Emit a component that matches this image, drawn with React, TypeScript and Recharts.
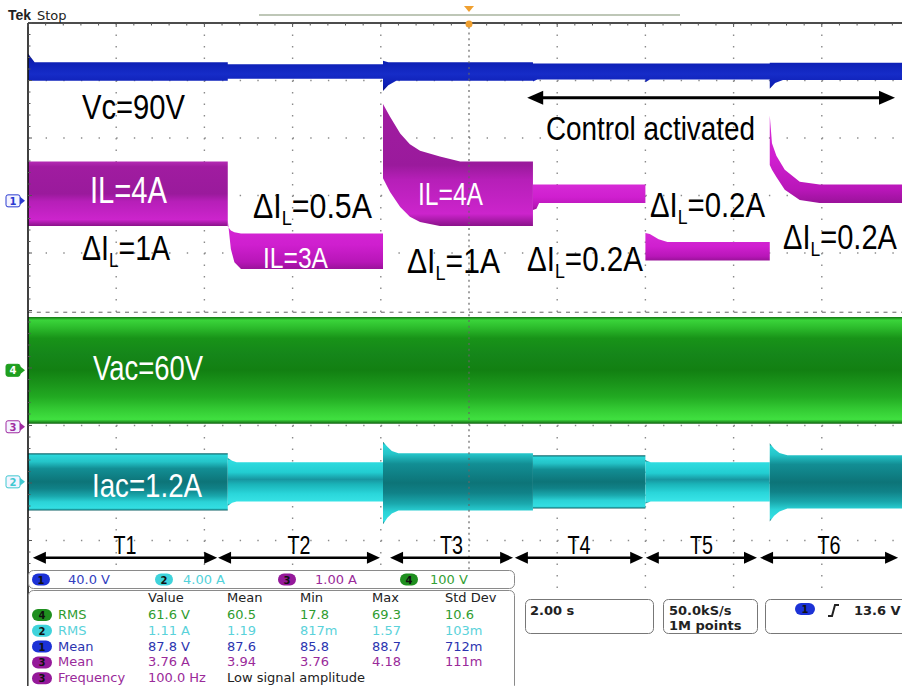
import React from "react";
import { ComposedChart, Area, XAxis, YAxis, CartesianGrid, ReferenceLine } from "recharts";

// graticule: 10 x 10 divisions
const PLOT_L = 28;
const PLOT_T = 23;
const PLOT_W = 882;
const PLOT_H = 575;
const T_END = 20; // 2.00 s/div

// channel settings: units per division, position (div from centre)
const CH_SCALE = { vc: 40, iac: 4, il: 1, vac: 100 };
const CH_POS = { vc: 1.907, iac: -2.98, il: -1.97, vac: -1.04 };

// test intervals (s)
const SEG_EDGES = [0, 4.53, 8.05, 11.45, 14.0, 16.82, 20];
const SEG_NAMES = ["T1", "T2", "T3", "T4", "T5", "T6"];
const SEG_ARROWS: [number, number][] = [
  [0.11, 4.29], [4.31, 7.98], [8.21, 11.0], [11.04, 13.95], [14.01, 16.53], [16.6, 19.73],
];
const CONTROL_SPAN: [number, number] = [11.32, 19.66];

// dc link voltage
const VC_LEVEL = 90;
const VC_NOISE = [6.5, 5, 6.5, 5.5, 5.5, 6];

// inductor current
const IL_LEVEL = [4, 3, 4, 4, 3, 4];
const IL_RIPPLE = [1, 0.5, 1, 0.2, 0.2, 0.2];
const IL_TRACE = 0.12;

// grid side
const VAC_RMS = 60;
const VAC_NOISE = 8;
const IAC_RMS = [1.2, 0.75, 1.2, 1.1, 0.75, 1.1];
const IAC_NOISE = 0.3;

// step responses after each change: [dt s, low edge offset, high edge offset]
type Kick = [number, number, number];
const VC_KICKS: Kick[][] = [
  [[0, 0, 6], [0.15, 0, 0]],
  [],
  [[0, -7, 1], [0.12, -3, 0], [0.3, 0, 0]],
  [[0, -1.5, 0], [0.1, 0, 0]],
  [[0, -2, 0], [0.1, 0, 0]],
  [[0, -6, 0], [0.12, -2, 0], [0.3, 0, 0]],
];
const IL_KICKS: Kick[][] = [
  [],
  [[0, 0.85, 0.12], [0.07, 0.35, 0.05], [0.15, 0.12, 0.02], [0.3, 0, 0]],
  [[0, 0.83, 1.0], [0.16, 0.59, 0.78], [0.39, 0.33, 0.49], [0.61, 0.16, 0.3], [0.84, 0.07, 0.19], [1.29, 0, 0.09], [1.75, 0, 0]],
  [[0, -0.12, 0], [0.08, -0.1, 0], [0.14, 0, 0]],
  [[0, 0, 0.16], [0.1, 0, 0.14], [0.3, 0, 0.05], [0.5, 0, 0]],
  [[0, 0.66, 1.2], [0.05, 0.58, 0.72], [0.15, 0.45, 0.5], [0.34, 0.23, 0.26], [0.68, 0.05, 0.05], [1.13, 0, 0]],
];
const IAC_KICKS: Kick[][] = [
  [],
  [[0, -0.3, 0.3], [0.1, -0.1, 0.1], [0.2, 0, 0]],
  [[0, -0.95, 0.8], [0.1, -0.5, 0.45], [0.2, -0.2, 0.15], [0.35, 0, 0]],
  [],
  [[0, -0.15, 0.15], [0.12, 0, 0]],
  [[0, -0.9, 0.83], [0.1, -0.5, 0.45], [0.22, -0.2, 0.15], [0.4, 0, 0]],
];

// measurement readout
const SCALE_BAR = [
  { ch: "1", text: "40.0 V", pill: "#1c32d6", color: "#3340c0", px: 32, tx: 68 },
  { ch: "2", text: "4.00 A", pill: "#3fd3db", color: "#52d2da", px: 155, tx: 183 },
  { ch: "3", text: "1.00 A", pill: "#95199a", color: "#9a2a9a", px: 278, tx: 315 },
  { ch: "4", text: "100 V", pill: "#1f8f1f", color: "#35a035", px: 400, tx: 430 },
];
const MEAS_HEAD = ["Value", "Mean", "Min", "Max", "Std Dev"];
const MEAS_COLS = [148, 227, 300, 372, 445];
const MEAS_ROWS = [
  { ch: "4", label: "RMS", vals: ["61.6 V", "60.5", "17.8", "69.3", "10.6"], pill: "#1f8f1f", color: "#2f9c2f" },
  { ch: "2", label: "RMS", vals: ["1.11 A", "1.19", "817m", "1.57", "103m"], pill: "#3fd3db", color: "#5ad2da" },
  { ch: "1", label: "Mean", vals: ["87.8 V", "87.6", "85.8", "88.7", "712m"], pill: "#1c32d6", color: "#2b34b0" },
  { ch: "3", label: "Mean", vals: ["3.76 A", "3.94", "3.76", "4.18", "111m"], pill: "#95199a", color: "#9a2a9a" },
  { ch: "3", label: "Frequency", vals: ["100.0 Hz"], pill: "#95199a", color: "#9a2a9a" },
];
const MEAS_NOTE = "Low signal amplitude";

type Ch = keyof typeof CH_SCALE;
const toDiv = (v: number, ch: Ch) => v / CH_SCALE[ch] + CH_POS[ch];

function band(ch: Ch, t0: number, t1: number, lo: number, hi: number, kicks: Kick[] = []) {
  const pts = kicks.map(([dt, dlo, dhi]) => ({ t: t0 + dt, v: [toDiv(lo + dlo, ch), toDiv(hi + dhi, ch)] }));
  if (!kicks.length || kicks[0][0] > 0) pts.unshift({ t: t0, v: [toDiv(lo, ch), toDiv(hi, ch)] });
  pts.push({ t: t1, v: [toDiv(lo, ch), toDiv(hi, ch)] });
  return pts;
}

const vcData = VC_NOISE.flatMap((n, i) =>
  band("vc", SEG_EDGES[i], SEG_EDGES[i + 1], VC_LEVEL - n, VC_LEVEL + n, VC_KICKS[i])
);
const ilBands = IL_LEVEL.map((lvl, i) => {
  const half = (IL_RIPPLE[i] + IL_TRACE) / 2;
  return band("il", SEG_EDGES[i], SEG_EDGES[i + 1], lvl - half, lvl + half, IL_KICKS[i]);
});
const vacPeak = VAC_RMS * Math.SQRT2 + VAC_NOISE;
const vacData = band("vac", 0, T_END, -vacPeak, vacPeak);
const iacBands = IAC_RMS.map((rms, i) => {
  const pk = rms * Math.SQRT2 + IAC_NOISE;
  return band("iac", SEG_EDGES[i], SEG_EDGES[i + 1], -pk, pk, IAC_KICKS[i]);
});

const NOTE_FONT = "'Liberation Sans', Arial, sans-serif";
const TEK_FONT = "'DejaVu Sans', Verdana, sans-serif";

const arrowShape = (label: string | null, head = 13, half = 6, sw = 2.6) => (p: any) => {
  const { x1, y1, x2, y2 } = p;
  return (
    <g>
      <line x1={x1 + head - 2} y1={y1} x2={x2 - head + 2} y2={y2} stroke="#000" strokeWidth={sw} />
      <polygon points={`${x1},${y1} ${x1 + head},${y1 - half} ${x1 + head},${y1 + half}`} fill="#000" />
      <polygon points={`${x2},${y2} ${x2 - head},${y2 - half} ${x2 - head},${y2 + half}`} fill="#000" />
      {label && (
        <text x={(x1 + x2) / 2} y={y1 - 4} textAnchor="middle" fontSize={25} fontFamily={NOTE_FONT}
          textLength={23} lengthAdjust="spacingAndGlyphs">{label}</text>
      )}
    </g>
  );
};

function Note({ x, y, w, size, fill = "#000", children }: any) {
  return (
    <text x={x} y={y} fontSize={size} fill={fill} fontFamily={NOTE_FONT} textLength={w} lengthAdjust="spacingAndGlyphs">
      {children}
    </text>
  );
}

function Ripple({ x, y, w, value }: any) {
  return (
    <text x={x} y={y} fontSize={35} fill="#000" fontFamily={NOTE_FONT} textLength={w} lengthAdjust="spacingAndGlyphs">
      ΔI<tspan fontSize={21} dy={7}>L</tspan><tspan dy={-7}>={value}A</tspan>
    </text>
  );
}

function Pill({ x, y, w = 18, fill, ch }: any) {
  return (
    <g>
      <rect x={x} y={y} width={w} height={12} rx={6} fill={fill} />
      <text x={x + w / 2} y={y + 10} textAnchor="middle" fontSize={10} fontWeight="bold" fill="#111" fontFamily={TEK_FONT}>{ch}</text>
    </g>
  );
}

function ChannelMark({ y, ch, color, filled }: any) {
  return (
    <g>
      <rect x={6} y={y - 6} width={14} height={12} rx={2} fill={filled ? color : "#f4f4ff"} stroke={color} strokeWidth={1} />
      <polygon points={`20,${y - 4} 25,${y} 20,${y + 4}`} fill={color} />
      <text x={13} y={y + 4} textAnchor="middle" fontSize={10} fontWeight="bold" fill={filled ? "#fff" : color} fontFamily={TEK_FONT}>{ch}</text>
    </g>
  );
}

const divY = (d: number) => PLOT_T + PLOT_H / 2 - d * (PLOT_H / 10);

const traceProps = { type: "linear" as const, stroke: "none", fillOpacity: 1, isAnimationActive: false, dot: false, activeDot: false };

export default function App() {
  const wide = [true, false, true, false, false, false];
  const iacWide = [true, false, true, true, false, true];
  return (
    <div style={{ position: "fixed", left: 0, top: 0, width: 902, height: 686, overflow: "hidden", background: "#fff" }}>
      <div style={{ position: "absolute", left: PLOT_L, top: PLOT_T }}>
        <ComposedChart width={PLOT_W} height={PLOT_H} margin={{ top: 0, right: 0, bottom: 0, left: 0 }}>
          <defs>
            <linearGradient id="gBlue" x1="0" y1="0" x2="0" y2="1">
              <stop offset="0" stopColor="#0a1690" />
              <stop offset="0.25" stopColor="#0d20b6" />
              <stop offset="0.55" stopColor="#162cc8" />
              <stop offset="0.85" stopColor="#0d1eb4" />
              <stop offset="1" stopColor="#07107a" />
            </linearGradient>
            <linearGradient id="gMagWide" x1="0" y1="0" x2="0" y2="1">
              <stop offset="0" stopColor="#b42ab4" />
              <stop offset="0.08" stopColor="#a01ca0" />
              <stop offset="0.5" stopColor="#9a1a9c" />
              <stop offset="0.62" stopColor="#b61fb8" />
              <stop offset="0.9" stopColor="#cc24cc" />
              <stop offset="1" stopColor="#8a128a" />
            </linearGradient>
            <linearGradient id="gMagNarrow" x1="0" y1="0" x2="0" y2="1">
              <stop offset="0" stopColor="#d62ad6" />
              <stop offset="0.5" stopColor="#cf1fcf" />
              <stop offset="0.85" stopColor="#b816b8" />
              <stop offset="1" stopColor="#9a129a" />
            </linearGradient>
            <linearGradient id="gGreen" x1="0" y1="0" x2="0" y2="1">
              <stop offset="0" stopColor="#117011" />
              <stop offset="0.03" stopColor="#3ad43a" />
              <stop offset="0.1" stopColor="#2cbc2c" />
              <stop offset="0.2" stopColor="#189318" />
              <stop offset="0.35" stopColor="#15861a" />
              <stop offset="0.5" stopColor="#128012" />
              <stop offset="0.62" stopColor="#1a931a" />
              <stop offset="0.75" stopColor="#22aa22" />
              <stop offset="0.87" stopColor="#34cc34" />
              <stop offset="0.96" stopColor="#40e040" />
              <stop offset="1" stopColor="#0f600f" />
            </linearGradient>
            <linearGradient id="gCyanWide" x1="0" y1="0" x2="0" y2="1">
              <stop offset="0" stopColor="#0b5a5f" />
              <stop offset="0.04" stopColor="#2cd6da" />
              <stop offset="0.15" stopColor="#24c4c8" />
              <stop offset="0.27" stopColor="#128e94" />
              <stop offset="0.5" stopColor="#0d7478" />
              <stop offset="0.62" stopColor="#108288" />
              <stop offset="0.75" stopColor="#1aa8ad" />
              <stop offset="0.85" stopColor="#2bd3d7" />
              <stop offset="0.96" stopColor="#33dfe3" />
              <stop offset="1" stopColor="#0a5c60" />
            </linearGradient>
            <linearGradient id="gCyanNarrow" x1="0" y1="0" x2="0" y2="1">
              <stop offset="0" stopColor="#0e6b70" />
              <stop offset="0.05" stopColor="#2fdde1" />
              <stop offset="0.3" stopColor="#22cdd1" />
              <stop offset="0.45" stopColor="#1796a0" />
              <stop offset="0.55" stopColor="#1ab3b8" />
              <stop offset="0.75" stopColor="#2ad6da" />
              <stop offset="0.95" stopColor="#39e5e8" />
              <stop offset="1" stopColor="#0e6b70" />
            </linearGradient>
          </defs>
          <XAxis type="number" dataKey="t" domain={[0, T_END]} hide allowDataOverflow />
          <YAxis type="number" domain={[-5, 5]} hide allowDataOverflow />
          <CartesianGrid vertical={false} horizontalValues={[-4, -3, -2, -1, 1, 2, 3, 4, -5]}
            stroke="#8a8a8a" strokeWidth={1.4} strokeDasharray="1.4 16.24" />
          <CartesianGrid horizontal={false} verticalValues={[2, 4, 6, 8, 12, 14, 16, 18]}
            stroke="#8a8a8a" strokeWidth={1.4} strokeDasharray="1.4 10.1" />
          <ReferenceLine y={-0.03} stroke="#666" strokeWidth={1} strokeDasharray="4 4.82" />
          <ReferenceLine x={10} stroke="#666" strokeWidth={1.2} strokeDasharray="2 3.75" />

          <Area data={vacData} dataKey="v" fill="url(#gGreen)" {...traceProps} />
          {iacBands.map((d, i) => (
            <Area key={"iac" + i} data={d} dataKey="v" fill={iacWide[i] ? "url(#gCyanWide)" : "url(#gCyanNarrow)"} {...traceProps} />
          ))}
          {ilBands.map((d, i) => (
            <Area key={"il" + i} data={d} dataKey="v" fill={wide[i] ? "url(#gMagWide)" : "url(#gMagNarrow)"} {...traceProps} />
          ))}
          <Area data={vcData} dataKey="v" fill="url(#gBlue)" {...traceProps} />

          {SEG_ARROWS.map(([a, b], i) => (
            <ReferenceLine key={"arr" + i} segment={[{ x: a, y: -4.3 }, { x: b, y: -4.3 }]} shape={arrowShape(SEG_NAMES[i])} ifOverflow="visible" />
          ))}
          <ReferenceLine segment={[{ x: CONTROL_SPAN[0], y: 3.7 }, { x: CONTROL_SPAN[1], y: 3.7 }]}
            shape={arrowShape(null, 16, 7, 3)} ifOverflow="visible" />
        </ComposedChart>
      </div>

      <svg width={902} height={686} style={{ position: "absolute", left: 0, top: 0 }}>
        {/* frame */}
        <line x1={PLOT_L} y1={PLOT_T} x2={PLOT_L} y2={686} stroke="#111" strokeWidth={1.6} />
        <line x1={PLOT_L} y1={PLOT_T} x2={902} y2={PLOT_T} stroke="#111" strokeWidth={1.6} />
        {Array.from({ length: 50 }, (_, k) => (
          <line key={"tt" + k} x1={PLOT_L + k * 17.64} y1={PLOT_T} x2={PLOT_L + k * 17.64} y2={PLOT_T + (k % 5 === 0 ? 4 : 2.5)} stroke="#555" strokeWidth={1} />
        ))}
        {Array.from({ length: 58 }, (_, k) => (
          <line key={"lt" + k} x1={PLOT_L} y1={PLOT_T + k * 11.5} x2={PLOT_L + (k % 5 === 0 ? 4 : 2.5)} y2={PLOT_T + k * 11.5} stroke="#555" strokeWidth={1} />
        ))}

        {/* header */}
        <text x={8} y={20} fontSize={14} fontWeight="bold" fontFamily={NOTE_FONT} fill="#222">Tek</text>
        <text x={37} y={20} fontSize={13} fontFamily={TEK_FONT} fill="#222">Stop</text>
        <line x1={259} y1={15} x2={680} y2={15} stroke="#7f9070" strokeWidth={1.2} />
        <polygon points="464,6 474,6 469,12" fill="#f0a030" />
        <circle cx={469} cy={24} r={3.5} fill="#f0a030" />

        {/* channel ground markers */}
        <ChannelMark y={divY(CH_POS.vc)} ch="1" color="#2a3ad0" />
        <ChannelMark y={divY(CH_POS.vac)} ch="4" color="#1f9f1f" filled />
        <ChannelMark y={divY(CH_POS.il) + 3} ch="3" color="#a02aa0" />
        <ChannelMark y={divY(CH_POS.iac)} ch="2" color="#3fc8d0" />

        {/* annotations */}
        <Note x={82} y={119} w={103} size={35}>{`Vc=${VC_LEVEL}V`}</Note>
        <Note x={546} y={140} w={209} size={34}>Control activated</Note>
        <Note x={90} y={203} w={77} size={36} fill="#fff">{`IL=${IL_LEVEL[0]}A`}</Note>
        <Note x={263} y={268} w={65} size={29} fill="#fff">{`IL=${IL_LEVEL[1]}A`}</Note>
        <Note x={418} y={205} w={65} size={32} fill="#fff">{`IL=${IL_LEVEL[2]}A`}</Note>
        <Ripple x={82} y={260} w={88} value={IL_RIPPLE[0]} />
        <Ripple x={253} y={218} w={119} value={IL_RIPPLE[1]} />
        <Ripple x={407} y={273} w={93} value={IL_RIPPLE[2]} />
        <Ripple x={527} y={271} w={116} value={IL_RIPPLE[3]} />
        <Ripple x={650} y={217} w={115} value={IL_RIPPLE[4]} />
        <Ripple x={783} y={249} w={114} value={IL_RIPPLE[5]} />
        <Note x={93} y={380} w={110} size={35} fill="#fff">{`Vac=${VAC_RMS}V`}</Note>
        <Note x={92} y={497} w={110} size={33} fill="#fff">{`Iac=${IAC_RMS[0]}A`}</Note>

        {/* channel scale bar */}
        <rect x={28.5} y={570.5} width={486} height={18} rx={5} fill="#fff" stroke="#8a8a8a" />
        {SCALE_BAR.map((s) => (
          <g key={"sb" + s.ch}>
            <Pill x={s.px} y={573.5} fill={s.pill} ch={s.ch} />
            <text x={s.tx} y={584} fontSize={13} fill={s.color} fontFamily={TEK_FONT}>{s.text}</text>
          </g>
        ))}

        {/* measurement table */}
        <rect x={28.5} y={590.5} width={486} height={100} rx={5} fill="#fff" stroke="#8a8a8a" />
        {MEAS_HEAD.map((h, i) => (
          <text key={h} x={MEAS_COLS[i]} y={602} fontSize={13} fill="#222" fontFamily={TEK_FONT}>{h}</text>
        ))}
        {MEAS_ROWS.map((r, j) => {
          const y = 619 + j * 15.8;
          return (
            <g key={"mr" + j}>
              <Pill x={32} y={y - 10} w={20} fill={r.pill} ch={r.ch} />
              <text x={58} y={y} fontSize={13} fill={r.color} fontFamily={TEK_FONT}>{r.label}</text>
              {r.vals.map((v, i) => (
                <text key={i} x={MEAS_COLS[i]} y={y} fontSize={13} fill={r.color} fontFamily={TEK_FONT}>{v}</text>
              ))}
            </g>
          );
        })}
        <text x={MEAS_COLS[1]} y={619 + 4 * 15.8} fontSize={13} fill="#222" fontFamily={TEK_FONT}>{MEAS_NOTE}</text>

        {/* timebase, acquisition, trigger */}
        <rect x={525.5} y={599.5} width={128} height={34} rx={5} fill="#fff" stroke="#777" />
        <text x={530} y={615} fontSize={13} fontWeight="bold" fill="#222" fontFamily={TEK_FONT}>{`${T_END / 10}.00 s`}</text>
        <rect x={663.5} y={599.5} width={94} height={34} rx={5} fill="#fff" stroke="#777" />
        <text x={669} y={615} fontSize={13} fontWeight="bold" fill="#222" fontFamily={TEK_FONT}>50.0kS/s</text>
        <text x={669} y={630} fontSize={13} fontWeight="bold" fill="#222" fontFamily={TEK_FONT}>1M points</text>
        <rect x={765.5} y={599.5} width={150} height={34} rx={5} fill="#fff" stroke="#777" />
        <Pill x={795} y={603} w={20} fill="#1c32d6" ch="1" />
        <path d="M828,616 L832,616 L835,605 L839,605" stroke="#222" strokeWidth={2} fill="none" />
        <text x={854} y={615} fontSize={13} fontWeight="bold" fill="#222" fontFamily={TEK_FONT}>13.6 V</text>
      </svg>
    </div>
  );
}
